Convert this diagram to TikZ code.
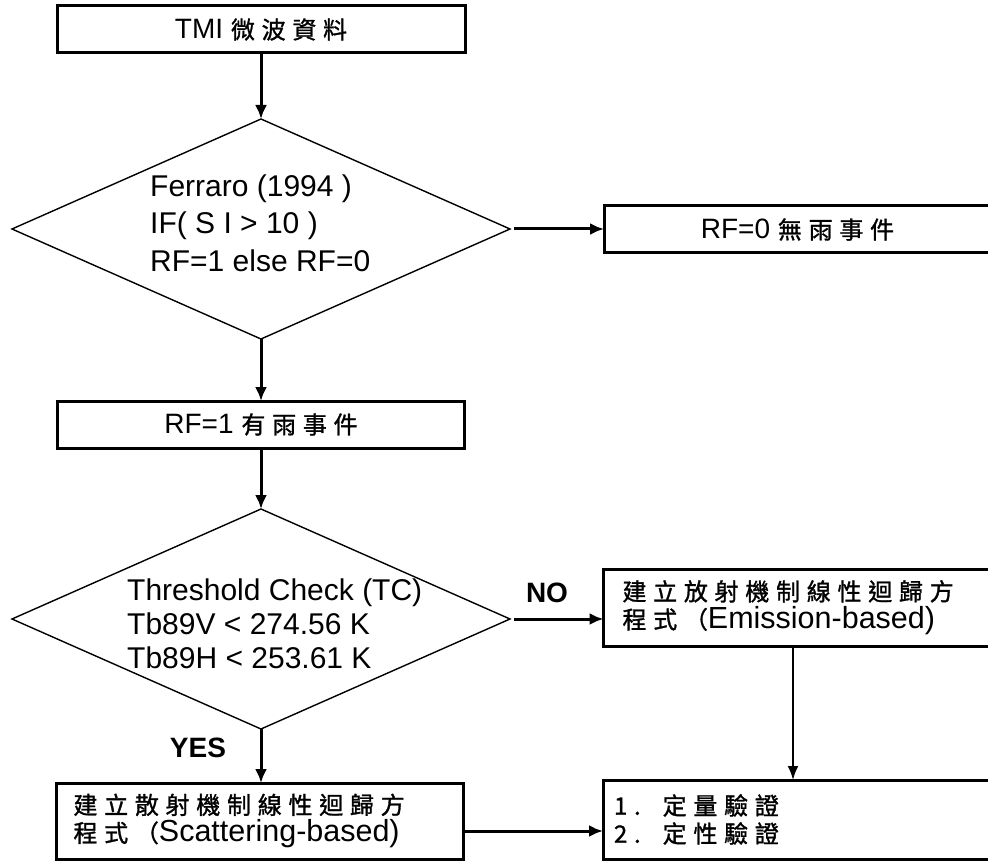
\documentclass[tikz,border=0pt]{standalone}
\usepackage{fontspec}
\setmainfont{Liberation Sans}
\newfontfamily\cjkfam[LetterSpace=28,FakeBold=1.2]{Noto Sans CJK TC}
\newcommand\cj[1]{{\cjkfam\fontsize{24}{28}\selectfont #1}}
\newcommand\boxfont{\fontsize{28}{28}\selectfont}
\newcommand\widefont{\fontsize{30.5}{28}\selectfont}
\usetikzlibrary{shapes.geometric,arrows.meta}
\begin{document}
\begin{tikzpicture}[x=1pt,y=-1pt,
  box/.style={draw, line width=3pt, rectangle, inner sep=0pt, outer sep=0pt, font=\boxfont},
  lbox/.style={box, align=left, inner xsep=#1},
  dia/.style={draw, line width=1.4pt, diamond, inner sep=0pt, outer sep=0pt,
              minimum width=498pt, minimum height=220pt},
  arr/.style={line width=3pt, -{Latex[length=14pt,width=12pt]}},
  thinarr/.style={line width=2pt, -{Latex[length=14pt,width=11pt]}},
  lbl/.style={font=\fontsize{28}{30}\selectfont\bfseries},
  ]
\useasboundingbox (0,0) rectangle (988,861);
\fill[white] (0,0) rectangle (988,861);

% boxes
\node[box, minimum width=408pt, minimum height=47pt] (tmi) at (261,29.5) {TMI \cj{微波資料}};
\node[box, minimum width=387pt, minimum height=47pt] (rf0) at (797.5,229.5) {RF=0 \cj{無雨事件}};
\node[box, minimum width=407pt, minimum height=47pt] (rf1) at (261,424.5) {RF=1 \cj{有雨事件}};
\node[lbox=19pt, text width=349pt, minimum height=77pt] (em) at (797,607.5)
  {\cj{建立放射機制線性迴歸方}\\\cj{程式（}{\widefont Emission-based)}};
\node[lbox=17pt, text width=373pt, minimum height=76pt] (sc) at (260,821)
  {\cj{建立散射機制線性迴歸方}\\\cj{程式（}{\widefont Scattering-based)}};
\node[lbox=11pt, text width=366pt, minimum height=79pt] (val) at (797,819.5)
  {\cj{1.\hspace{22pt}定量驗證}\\\cj{2.\hspace{22pt}定性驗證}};

% diamonds
\node[dia] (d1) at (261,229) {};
\node[anchor=west, align=left, inner sep=0pt, font=\fontsize{30}{37.5}\selectfont] (d1t) at (150,223)
  {Ferraro (1994 )\\IF( S I > 10 )\\RF=1 else RF=0};
\node[dia] (d2) at (261,619) {};
\node[anchor=west, align=left, inner sep=0pt, font=\fontsize{30}{34}\selectfont] (d2t) at (127,624)
  {Threshold Check (TC)\\Tb89V < 274.56 K\\Tb89H < 253.61 K};

% labels
\node[lbl] (no) at (547,593) {NO};
\node[lbl] (yes) at (198,748) {YES};

% connectors
\draw[arr] (tmi.south) -- (d1.north);
\draw[arr] ([xshift=4pt]d1.east) -- (d1.east -| rf0.west);
\draw[arr] (d1.south) -- (rf1.north);
\draw[arr] (rf1.south) -- (d2.north);
\draw[arr] ([xshift=4pt]d2.east) -- (d2.east -| em.west);
\draw[arr] (d2.south) -- (d2.south |- sc.north);
\draw[thinarr] ([xshift=-4pt]em.south) -- ([xshift=-4pt]val.north);
\draw[arr] ([yshift=-10pt]sc.east) -- ([yshift=-10pt]sc.east -| val.west);
\end{tikzpicture}
\end{document}
